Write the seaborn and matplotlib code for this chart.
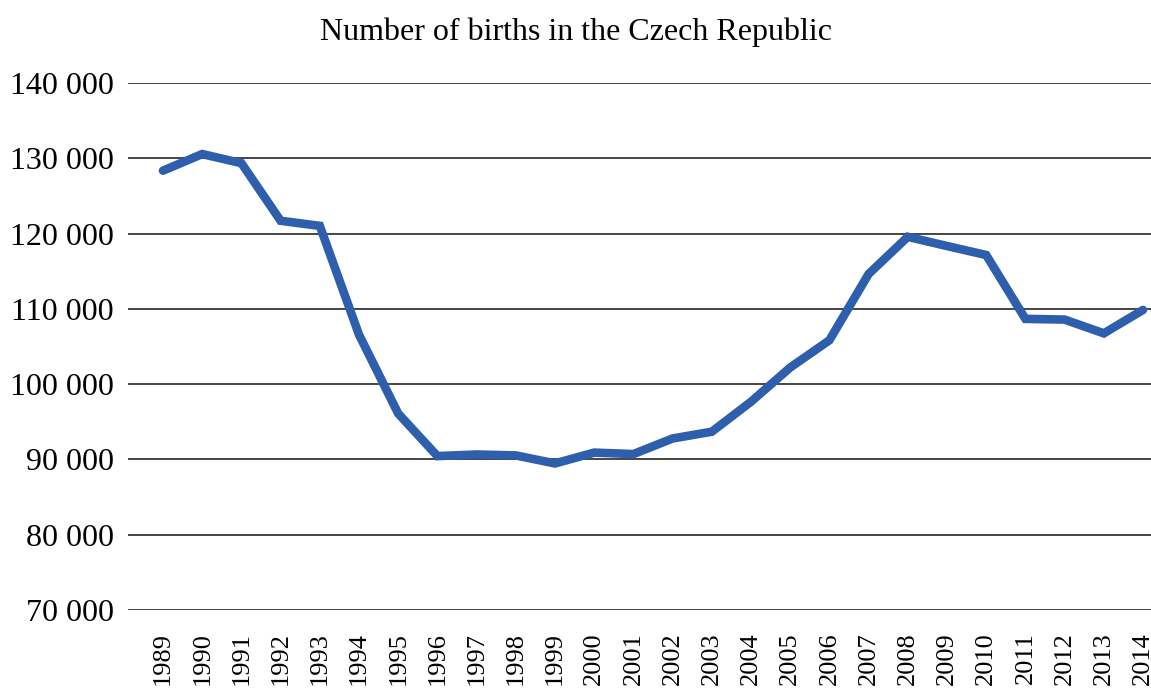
import numpy as np
import pandas as pd
import seaborn as sns
import matplotlib.pyplot as plt
from matplotlib.ticker import FuncFormatter

# births per year
years = list(range(1989, 2015))
births = [128356, 130564, 129354, 121705, 121025, 106579, 96097, 90446,
          90657, 90535, 89471, 90910, 90715, 92786, 93685, 97664, 102211,
          105831, 114632, 119570, 118348, 117153, 108673, 108576, 106751,
          109860]
y_ticks = [70000, 80000, 90000, 100000, 110000, 120000, 130000, 140000]

df = pd.DataFrame({"year": years, "births": births})

sns.set_style("white")
plt.rcParams["font.family"] = ["Liberation Serif", "DejaVu Serif"]
plt.rcParams["text.color"] = "black"
plt.rcParams["xtick.color"] = "black"
plt.rcParams["ytick.color"] = "black"

fig = plt.figure(figsize=(11.51, 6.90), dpi=100)
ax = fig.add_axes([0.1112, 0.1159, 0.8888, 0.7638])

sns.lineplot(data=df, x="year", y="births", ax=ax, color="#2E5FAD",
             linewidth=6.2, solid_joinstyle="miter")

ax.set_ylim(70000, 140000)
ax.set_xlim(1989 - 35 / 39.2, 2014 + 8 / 39.2)
ax.set_yticks(y_ticks)
ax.set_xticks(years)
ax.yaxis.set_major_formatter(FuncFormatter(lambda v, p: "{:,}".format(int(v)).replace(",", " ")))
ax.set_xticklabels([str(y) for y in years], rotation=90)

# horizontal grid only
for yv in y_ticks:
    ax.axhline(yv, color="#262626", linewidth=1.2, zorder=0)

sns.despine(ax=ax, left=True, bottom=True)
ax.set_xlabel("")
ax.set_ylabel("")
ax.tick_params(axis="y", length=0, pad=10, labelsize=23)
ax.tick_params(axis="x", length=0, pad=16, labelsize=19)

fig.suptitle("Number of births in the Czech Republic", fontsize=23, y=0.975)

fig.savefig("out.png", dpi=100)
